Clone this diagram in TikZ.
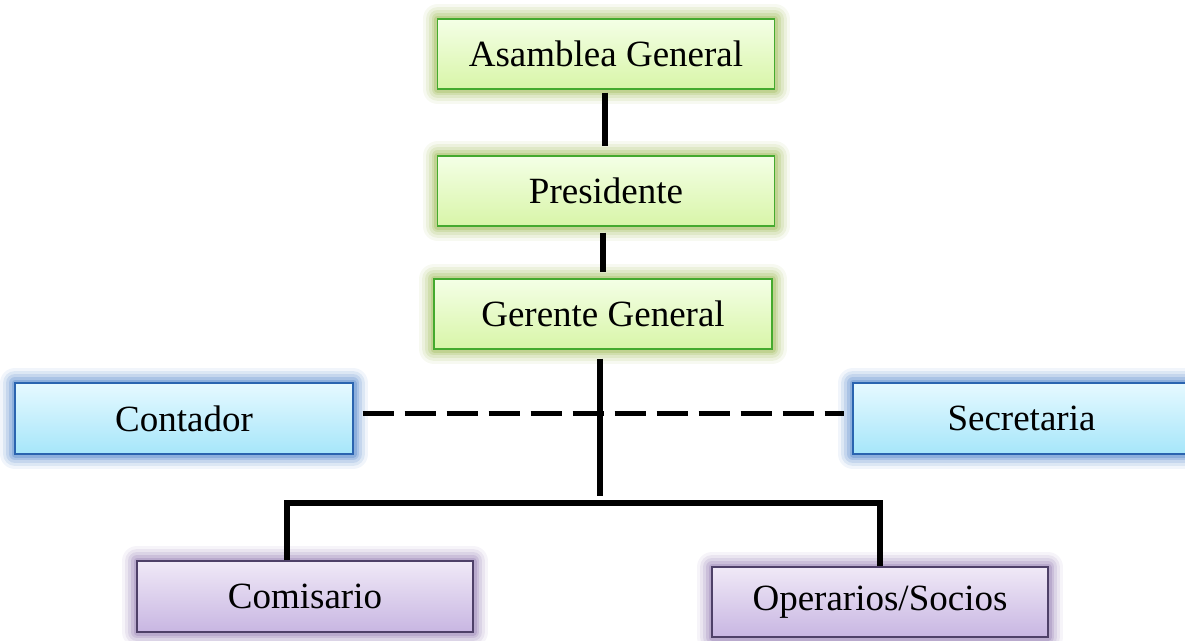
\documentclass[tikz,border=0pt]{standalone}
\usepackage{fontspec}
\setmainfont{Liberation Serif}
\definecolor{gtop}{HTML}{F4FFE6}
\definecolor{gbot}{HTML}{D8F5A8}
\definecolor{gbord}{HTML}{44AA2E}
\definecolor{gglow}{HTML}{9CB850}
\definecolor{btop}{HTML}{E6F9FF}
\definecolor{bbot}{HTML}{A6E6FA}
\definecolor{bbord}{HTML}{2A64B0}
\definecolor{bglow}{HTML}{4A80C8}
\definecolor{ptop}{HTML}{F0E9F7}
\definecolor{pbot}{HTML}{C8B6E2}
\definecolor{pbord}{HTML}{4E4068}
\definecolor{pglow}{HTML}{9078B0}
\tikzset{
  glowbox/.style={draw=#1, line width=1.3pt, minimum width=337pt, minimum height=70pt,
    inner sep=0pt, font=\fontsize{37}{44}\selectfont,
    preaction={draw=#1glowc, draw opacity=0.08, line width=30pt, line join=round},
    preaction={draw=#1glowc, draw opacity=0.12, line width=24pt, line join=round},
    preaction={draw=#1glowc, draw opacity=0.16, line width=18pt, line join=round},
    preaction={draw=#1glowc, draw opacity=0.22, line width=12pt, line join=round},
    preaction={draw=#1glowc, draw opacity=0.30, line width=7pt, line join=round}},
  greenbox/.style={glowbox=gbord, top color=gtop, bottom color=gbot},
  bluebox/.style={glowbox=bbord, top color=btop, bottom color=bbot},
  purplebox/.style={glowbox=pbord, top color=ptop, bottom color=pbot},
  conn/.style={line width=5.5pt, black},
  dashconn/.style={line width=5pt, black, dash pattern=on 31pt off 11pt}
}
\colorlet{gbordglowc}{gglow}
\colorlet{bbordglowc}{bglow}
\colorlet{pbordglowc}{pglow}
\begin{document}
\begin{tikzpicture}[x=1pt,y=-1pt]
\useasboundingbox (0,0) rectangle (1185,640);
\node[greenbox] (ag) at (606,54) {Asamblea General};
\node[greenbox] (pr) at (606,191) {Presidente};
\node[greenbox, minimum width=338pt] (gg) at (603,314) {Gerente General};
\node[bluebox, minimum width=338pt, minimum height=71pt] (cont) at (184,418.5) {Contador};
\node[bluebox, minimum height=71pt] (sec) at (1021.5,418.5) {Secretaria};
\node[purplebox, minimum width=336pt, minimum height=71pt] (com) at (305,596.5) {Comisario};
\node[purplebox, minimum width=336pt] (op) at (880,602) {Operarios/Socios};

\draw[conn, shorten <=3pt, shorten >=9pt] ([xshift=-1pt]ag.south) -- ([xshift=-1pt]ag.south |- pr.north);
\draw[conn, shorten <=6pt, shorten >=6pt] ([xshift=-3pt]pr.south) -- ([xshift=-3pt]pr.south |- gg.north);
\coordinate (gend) at (600,496);
\coordinate (hl) at (287,503);
\coordinate (hr) at (880,503);
\draw[conn, shorten <=9pt] (gg.south -| gend) -- (gend);
\draw[conn] (com.north -| hl) -- (hl) -- (hr) -- (op.north -| hr);
\draw[dashconn, shorten <=9pt, shorten >=8pt] ([yshift=5pt]cont.east) -- ([yshift=5pt]sec.west);
\end{tikzpicture}
\end{document}
